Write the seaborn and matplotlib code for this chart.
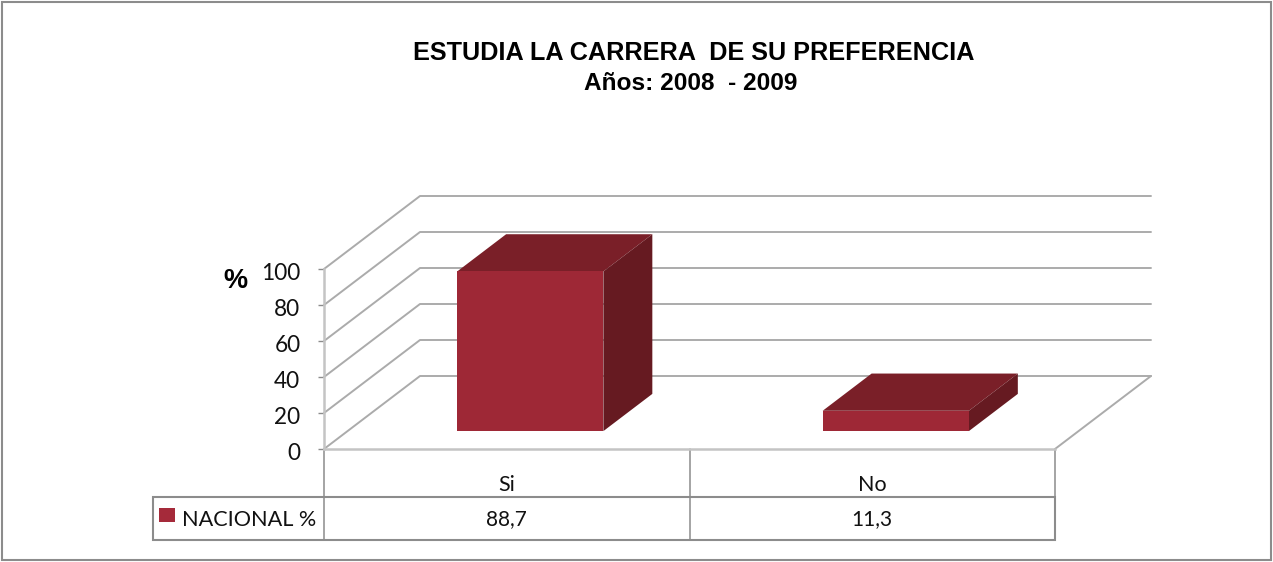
import pandas as pd
import matplotlib
matplotlib.use('Agg')
import matplotlib.pyplot as plt
from matplotlib.patches import Polygon, Rectangle
from matplotlib.transforms import Affine2D
import seaborn as sns

# datos
categorias = ['Si', 'No']
valores = [88.7, 11.3]
serie = 'NACIONAL %'
ticks_y = [0, 20, 40, 60, 80, 100]
titulo = 'ESTUDIA LA CARRERA  DE SU PREFERENCIA'
subtitulo = 'Años: 2008  - 2009'

W, H = 1273, 562
ROJO, ROJO_TOP, ROJO_LADO = '#9E2836', '#7A1F28', '#661A21'
GRIS = '#ABABAB'
GRIS_TABLA = '#8C8C8C'

sns.set_theme(style='white')
plt.rcParams['font.family'] = ['Lato', 'DejaVu Sans']

fig = plt.figure(figsize=(W / 100, H / 100), dpi=100)
fig.patch.set_facecolor('white')
ax = fig.add_axes([324 / W, (H - 449) / H, 731 / W, 180 / H])

df = pd.DataFrame({'cat': categorias, 'val': valores})
sns.barplot(data=df, x='cat', y='val', color=ROJO, saturation=1, width=0.4, ax=ax, zorder=3)
ax.set_ylim(0, 100)
ax.set_xlim(-0.5, 1.5)
ax.set_facecolor('none')
ax.set_xlabel('')

# profundidad 3D en unidades de datos
px_x = 2 / 731
px_y = 100 / 180
DX = 96 * px_x
DY = 73 * px_y
FRENTE = 0.245
FONDO = 0.755

# paredes y rejilla
for v in ticks_y:
    ax.plot([-0.5, -0.5 + DX, 1.5 + DX], [v, v + DY, v + DY], color=GRIS, lw=1.4,
            clip_on=False, zorder=1)
ax.plot([1.5, 1.5 + DX], [0, DY], color=GRIS, lw=1.4, clip_on=False, zorder=1)

# barras: la cara frontal viene de seaborn, se agregan tapa y lado
for p in ax.patches[:]:
    p.set_clip_on(False)
    x0 = p.get_x() + FRENTE * DX
    y0 = FRENTE * DY
    w = p.get_width()
    h = p.get_height()
    p.set_x(x0)
    p.set_y(y0)
    p.set_linewidth(0)
    ddx = (FONDO - FRENTE) * DX
    ddy = (FONDO - FRENTE) * DY
    ax.add_patch(Polygon([(x0, y0 + h), (x0 + w, y0 + h), (x0 + w + ddx, y0 + h + ddy), (x0 + ddx, y0 + h + ddy)],
                         color=ROJO_TOP, lw=0, clip_on=False, zorder=2.9))
    ax.add_patch(Polygon([(x0 + w, y0), (x0 + w + ddx, y0 + ddy), (x0 + w + ddx, y0 + h + ddy), (x0 + w, y0 + h)],
                         color=ROJO_LADO, lw=0, clip_on=False, zorder=2.9))

# ejes
for s in ['top', 'right']:
    ax.spines[s].set_visible(False)
for s in ['left', 'bottom']:
    ax.spines[s].set_color('#C4C4C4')
    ax.spines[s].set_linewidth(1.8)
ax.set_yticks(ticks_y)
ax.tick_params(axis='y', left=True, length=4, width=1, color=GRIS_TABLA, labelsize=16.3, pad=13, labelcolor='#111111')
ax.tick_params(axis='x', bottom=False, length=0, labelsize=15.5, pad=19, labelcolor='#111111')
for lab in ax.get_yticklabels():
    lab.set_transform(lab.get_transform() + Affine2D().translate(0, -3))
ax.set_ylabel('%', rotation=0, fontsize=19.5, fontweight='bold', family='Liberation Sans', color='black')
ax.yaxis.set_label_coords((235 - 324) / 731, (449 - 281) / 180)
ax.yaxis.label.set_va('center')
ax.yaxis.label.set_ha('center')

# tabla de datos
y_sup = -48 * px_y
y_inf = -91 * px_y
x_ley = -0.5 - 171 * px_x
for x in [-0.5, 0.5, 1.5]:
    ax.plot([x, x], [0, y_inf], color=GRIS_TABLA, lw=1.1, clip_on=False, zorder=1)
ax.add_patch(Rectangle((x_ley, y_inf), 1.5 - x_ley, y_sup - y_inf, fill=False, ec=GRIS_TABLA, lw=1.5, clip_on=False))
y_mid = (y_sup + y_inf) / 2 - 1 * px_y
for i, v in enumerate(valores):
    ax.text(i, y_mid, f'{v:.1f}'.replace('.', ','), ha='center', va='center', fontsize=15, color='#111111')
ax.add_patch(Rectangle((x_ley + 6 * px_x, y_mid - 2 * px_y), 16 * px_x, 14 * px_y, color='#A52A3A', lw=0, clip_on=False))
ax.text(x_ley + 29 * px_x, y_mid, serie, ha='left', va='center', fontsize=15.6, color='#111111')

# titulo y marco
fig.text(694 / W, 1 - 53 / H, titulo, ha='center', va='center', fontsize=18.2, fontweight='bold',
         family='Liberation Sans', color='black')
fig.text(691 / W, 1 - 84 / H, subtitulo, ha='center', va='center', fontsize=17.6, fontweight='bold',
         family='Liberation Sans', color='black')
fig.add_artist(Rectangle((2 / W, 2 / H), 1269 / W, 558 / H, fill=False, ec='#8C8C8C', lw=1.5,
                         transform=fig.transFigure))

fig.savefig('out.png', dpi=100)
